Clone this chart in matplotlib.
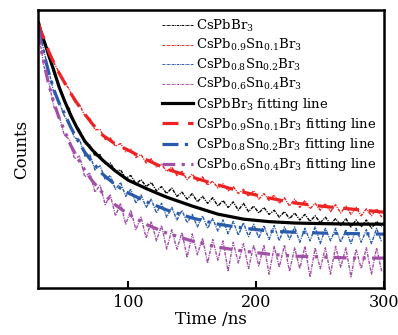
import matplotlib
matplotlib.use("Agg")
import matplotlib.pyplot as plt

plt.rcParams['font.family'] = 'DejaVu Serif'
plt.rcParams['mathtext.fontset'] = 'dejavuserif'

# measured decay (normalised counts), every 4 ns
t_data = [30 + 4 * k for k in range(68)]
pb_data = [.95, .89, .84, .77, .73, .67, .645, .59, .57, .52, .515, .475, .48, .445, .45, .42,
           .425, .395, .405, .375, .39, .365, .38, .35, .365, .34, .36, .33, .345, .32, .34, .31,
           .33, .305, .325, .295, .315, .29, .31, .28, .305, .275, .295, .27, .29, .265, .28, .255,
           .275, .25, .27, .245, .265, .24, .26, .235, .255, .23, .25, .225, .25, .22, .245, .22,
           .245, .215, .24, .22]
sn01_data = [.95, .895, .85, .81, .775, .74, .715, .67, .66, .62, .61, .57, .57, .535, .54, .51,
             .52, .49, .50, .47, .48, .45, .465, .435, .445, .42, .435, .405, .42, .39, .41, .385,
             .40, .37, .385, .36, .375, .35, .365, .34, .355, .33, .35, .32, .34, .315, .335, .305,
             .325, .295, .32, .29, .315, .285, .305, .28, .305, .275, .30, .27, .295, .265, .29, .26,
             .285, .26, .285, .255]
sn02_data = [.93, .855, .78, .70, .67, .62, .595, .54, .535, .475, .48, .425, .44, .39, .405, .355,
             .38, .33, .355, .305, .335, .29, .32, .27, .305, .255, .29, .245, .28, .235, .265, .22,
             .26, .215, .25, .205, .245, .195, .24, .19, .235, .185, .23, .18, .225, .175, .225, .17,
             .22, .175, .22, .165, .215, .17, .22, .16, .215, .17, .215, .165, .21, .16, .215, .165,
             .21, .16, .215, .165]
sn04_data = [.92, .80, .74, .65, .62, .55, .535, .465, .475, .40, .415, .345, .37, .30, .335, .26,
             .305, .23, .28, .21, .255, .18, .24, .17, .225, .14, .21, .14, .20, .11, .195, .12,
             .18, .09, .175, .10, .17, .06, .165, .09, .16, .07, .155, .08, .155, .05, .15, .075,
             .155, .06, .145, .07, .15, .04, .145, .07, .145, .05, .15, .075, .145, .04, .14, .07,
             .145, .05, .145, .06]

# fitting lines
t_fit = [30, 32, 35, 38, 42, 46, 50, 55, 60, 66, 72, 80, 90, 100, 115, 130, 150, 170, 190, 210,
         230, 250, 275, 300]
pb_fit = [.953, .917, .878, .835, .781, .723, .676, .622, .576, .529, .496, .460, .421, .388,
          .356, .327, .295, .266, .248, .239, .234, .232, .230, .230]
sn01_fit = [.950, .921, .888, .849, .809, .773, .741, .701, .665, .626, .590, .550, .518, .496,
            .460, .428, .399, .371, .345, .324, .306, .295, .284, .273]
sn02_fit = [.935, .885, .827, .773, .712, .665, .629, .579, .536, .489, .453, .410, .371, .342,
            .309, .281, .252, .230, .216, .205, .201, .198, .196, .194]
sn04_fit = [.921, .856, .791, .730, .665, .612, .568, .514, .471, .424, .385, .342, .299, .266,
            .227, .198, .169, .147, .133, .122, .115, .112, .108, .108]

names = [r'CsPbBr$_3$', r'CsPb$_{0.9}$Sn$_{0.1}$Br$_3$',
         r'CsPb$_{0.8}$Sn$_{0.2}$Br$_3$', r'CsPb$_{0.6}$Sn$_{0.4}$Br$_3$']
colors = ['black', '#ee2222', '#2a5bab', '#a24fa8']

fig = plt.figure(figsize=(3.98, 3.35), dpi=100)
ax = fig.add_axes([0.0955, 0.14, 0.87, 0.83])

for y, c, n in zip([pb_data, sn01_data, sn02_data, sn04_data], colors, names):
    ax.plot(t_data, y, color=c, lw=1.0, dashes=(2.5, 0.8, 0.8, 0.8), label=n)

fit_dashes = [None, (5, 3), (5, 2, 1, 2), (4, 2, 1, 2, 1, 2)]
for y, c, n, d in zip([pb_fit, sn01_fit, sn02_fit, sn04_fit], colors, names, fit_dashes):
    if d is None:
        ax.plot(t_fit, y, color=c, lw=2.3, label=n + ' fitting line')
    else:
        ax.plot(t_fit, y, color=c, lw=2.3, dashes=d, label=n + ' fitting line')

ax.set_xlim(29.5, 300)
ax.set_ylim(0, 1)
ax.set_xticks([100, 200, 300])
ax.set_yticks([])
ax.tick_params(axis='x', direction='in', length=5, width=1.5, labelsize=11.5, pad=4)
for s in ax.spines.values():
    s.set_linewidth(1.8)
ax.set_xlabel('Time /ns', fontsize=12, labelpad=0)
ax.set_ylabel('Counts', fontsize=12, labelpad=6)

leg = ax.legend(loc='upper right', frameon=False, fontsize=9.5, handlelength=2.4,
                handletextpad=0.2, labelspacing=0.25, borderaxespad=0.2)
for h in leg.get_lines()[:4]:
    h.set_linewidth(0.7)

fig.savefig('out.png', dpi=100)
